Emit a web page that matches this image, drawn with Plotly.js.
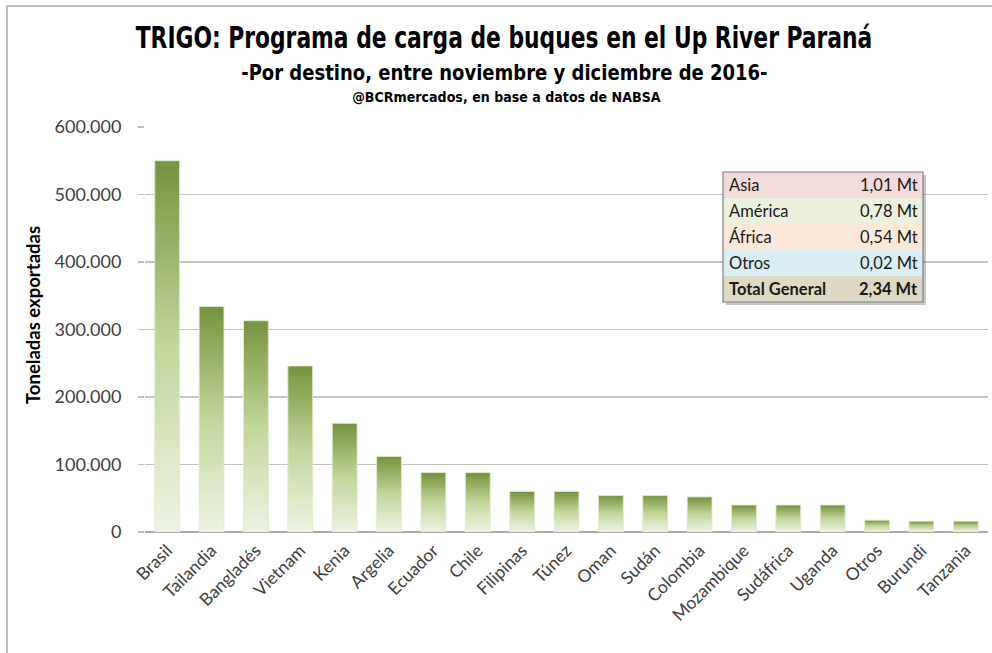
<!DOCTYPE html>
<html>
<head>
<meta charset="utf-8">
<script src="https://cdn.plot.ly/plotly-3.0.1.min.js"></script>
<style>
html,body{margin:0;padding:0;background:#fff;}
#chart{width:992px;height:653px;}
</style>
</head>
<body>
<div id="chart"></div>
<script>
// ---- data ----
const categories = ["Brasil","Tailandia","Bangladés","Vietnam","Kenia","Argelia","Ecuador","Chile","Filipinas","Túnez","Oman","Sudán","Colombia","Mozambique","Sudáfrica","Uganda","Otros","Burundi","Tanzania"];
const values = [550000,334000,313000,246000,161000,112000,88000,88000,60000,60000,54000,54000,52000,40000,40000,40000,17500,16000,16000];
const regions = ["Asia","América","África","Otros","Total General"];
const regionTotals = ["1,01 Mt","0,78 Mt","0,54 Mt","0,02 Mt","2,34 Mt"];
const regionColors = ["#F2DCDB","#EBF1DE","#FDE9D9","#DAEEF3","#DDD9C4"];
const yTickVals = [0,100000,200000,300000,400000,500000,600000];
const titleText = "TRIGO: Programa de carga de buques en el Up River Paraná";
const subtitleText = "-Por destino, entre noviembre y diciembre de 2016-";
const sourceText = "@BCRmercados, en base a datos de NABSA";
const yTitleText = "Toneladas exportadas";

// ---- layout helpers (pixel -> paper) ----
const W = 992, H = 653;
const M = {l:145, r:4, t:127, b:121};
const PW = W - M.l - M.r, PH = H - M.t - M.b;
const px = x => (x - M.l) / PW;
const py = y => (H - M.b - y) / PH;

const shapes = [];
const annotations = [];

// frame lines of the original picture
shapes.push({type:'line', xref:'paper', yref:'paper', x0:px(7), x1:px(992), y0:py(6), y1:py(6), line:{color:'#A8A8A8', width:1.5}});
shapes.push({type:'line', xref:'paper', yref:'paper', x0:px(7), x1:px(7), y0:py(6), y1:py(653), line:{color:'#A8A8A8', width:1.5}});

// summary table
const tx0 = 723, tx1 = 923, ty0 = 172, rowH = 26;
shapes.push({type:'rect', xref:'paper', yref:'paper', x0:px(tx0+3), x1:px(tx1+3), y0:py(ty0+3), y1:py(ty0+3+rowH*regions.length), fillcolor:'rgba(0,0,0,0.22)', line:{width:0}, layer:'above'});
regions.forEach((r,i) => {
  shapes.push({type:'rect', xref:'paper', yref:'paper', x0:px(tx0), x1:px(tx1), y0:py(ty0+rowH*i), y1:py(ty0+rowH*(i+1)), fillcolor:regionColors[i], line:{width:0}, layer:'above'});
  const bold = i === regions.length-1;
  const f = {family:'Lato, "Open Sans", sans-serif', size:16.5, color:'#1a1a1a', weight: bold ? 'bold' : 'normal'};
  annotations.push({xref:'paper', yref:'paper', x:px(tx0+4), y:py(ty0+rowH*i+rowH/2), xanchor:'left', yanchor:'middle', text:r, showarrow:false, font:f});
  annotations.push({xref:'paper', yref:'paper', x:px(tx1-3), y:py(ty0+rowH*i+rowH/2), xanchor:'right', yanchor:'middle', text:regionTotals[i], showarrow:false, font:f});
});
shapes.push({type:'rect', xref:'paper', yref:'paper', x0:px(tx0), x1:px(tx1), y0:py(ty0), y1:py(ty0+rowH*regions.length), fillcolor:'rgba(0,0,0,0)', line:{color:'#7F7F7F', width:1.2}, layer:'above'});

// subtitles
const titleFont = '"DejaVu Sans Condensed", "Liberation Sans Narrow", sans-serif';
annotations.push({xref:'paper', yref:'paper', x:px(504), y:py(72), xanchor:'center', yanchor:'middle', showarrow:false,
  text:subtitleText, font:{family:titleFont, size:22, color:'#000', weight:'bold'}});
annotations.push({xref:'paper', yref:'paper', x:px(506), y:py(97), xanchor:'center', yanchor:'middle', showarrow:false,
  text:sourceText, font:{family:titleFont, size:14, color:'#000', weight:'bold'}});
// y-axis title
annotations.push({xref:'paper', yref:'paper', x:px(33), y:py(315), xanchor:'center', yanchor:'middle', showarrow:false, textangle:-90,
  text:yTitleText, font:{family:'Lato, "Open Sans", sans-serif', size:18.5, color:'#000', weight:'bold'}});

const trace = {
  type:'bar',
  x: categories,
  y: values,
  marker:{color:'#A9C46F', line:{color:'rgba(225,235,205,0.9)', width:1}},
  hoverinfo:'x+y'
};

const layout = {
  width:W, height:H,
  margin:M,
  paper_bgcolor:'#fff', plot_bgcolor:'#fff',
  separators:',.',
  bargap:0.44,
  showlegend:false,
  title:{text:titleText, x:504/W, xanchor:'center', y:1-38/H, yanchor:'middle', xref:'container', yref:'container',
         font:{family:titleFont, size:30, color:'#000', weight:'bold'}},
  xaxis:{
    type:'category',
    tickangle:-45,
    tickfont:{family:'Lato, "Open Sans", sans-serif', size:17.5, color:'#404040'},
    ticklabelstandoff:4,
    showgrid:false, zeroline:false, showline:false, ticks:'',
    automargin:false
  },
  yaxis:{
    range:[0,600000],
    tickvals:yTickVals,
    tickformat:',d',
    tickfont:{family:'Lato, "Open Sans", sans-serif', size:18, color:'#404040'},
    ticks:'outside', ticklen:6, tickcolor:'#BFBFBF', tickwidth:1.5,
    ticklabelstandoff:13,
    showgrid:true, gridcolor:'#C4C4C4', gridwidth:1.5,
    zeroline:true, zerolinecolor:'#AAAAAA', zerolinewidth:2.5,
    showline:false,
    automargin:false
  },
  shapes:shapes,
  annotations:annotations
};

// horizontally squeeze a text element around its anchor to mimic a condensed headline font
function squeeze(el, targetWidth) {
  if (!el) return;
  const bb = el.getBBox();
  if (!bb.width) return;
  const s = targetWidth / bb.width;
  const cx = bb.x + bb.width / 2;
  const prev = el.getAttribute('transform') || '';
  el.setAttribute('transform', prev + ` translate(${cx},0) scale(${s},1) translate(${-cx},0)`);
}

Plotly.newPlot('chart', [trace], layout, {displayModeBar:false, staticPlot:true}).then(gd => {
  const svg = gd.querySelector('svg.main-svg');
  const NS = 'http://www.w3.org/2000/svg';
  let defs = svg.querySelector('defs');
  if (!defs) { defs = document.createElementNS(NS,'defs'); svg.insertBefore(defs, svg.firstChild); }
  const lg = document.createElementNS(NS,'linearGradient');
  lg.setAttribute('id','barGrad');
  lg.setAttribute('x1','0'); lg.setAttribute('y1','0'); lg.setAttribute('x2','0'); lg.setAttribute('y2','1');
  [['0%','#76923C'],['50%','#C3D69B'],['100%','#EEF3E5']].forEach(s => {
    const st = document.createElementNS(NS,'stop');
    st.setAttribute('offset', s[0]); st.setAttribute('stop-color', s[1]);
    lg.appendChild(st);
  });
  defs.appendChild(lg);
  gd.querySelectorAll('.bars .point path').forEach(p => { p.style.fill = 'url(#barGrad)'; });

  // condensed headline look
  squeeze(gd.querySelector('.gtitle'), 737);
  gd.querySelectorAll('.annotation-text').forEach(t => {
    if (t.textContent === subtitleText) squeeze(t, 527);
    if (t.textContent === sourceText) squeeze(t, 309);
  });
});
</script>
</body>
</html>
